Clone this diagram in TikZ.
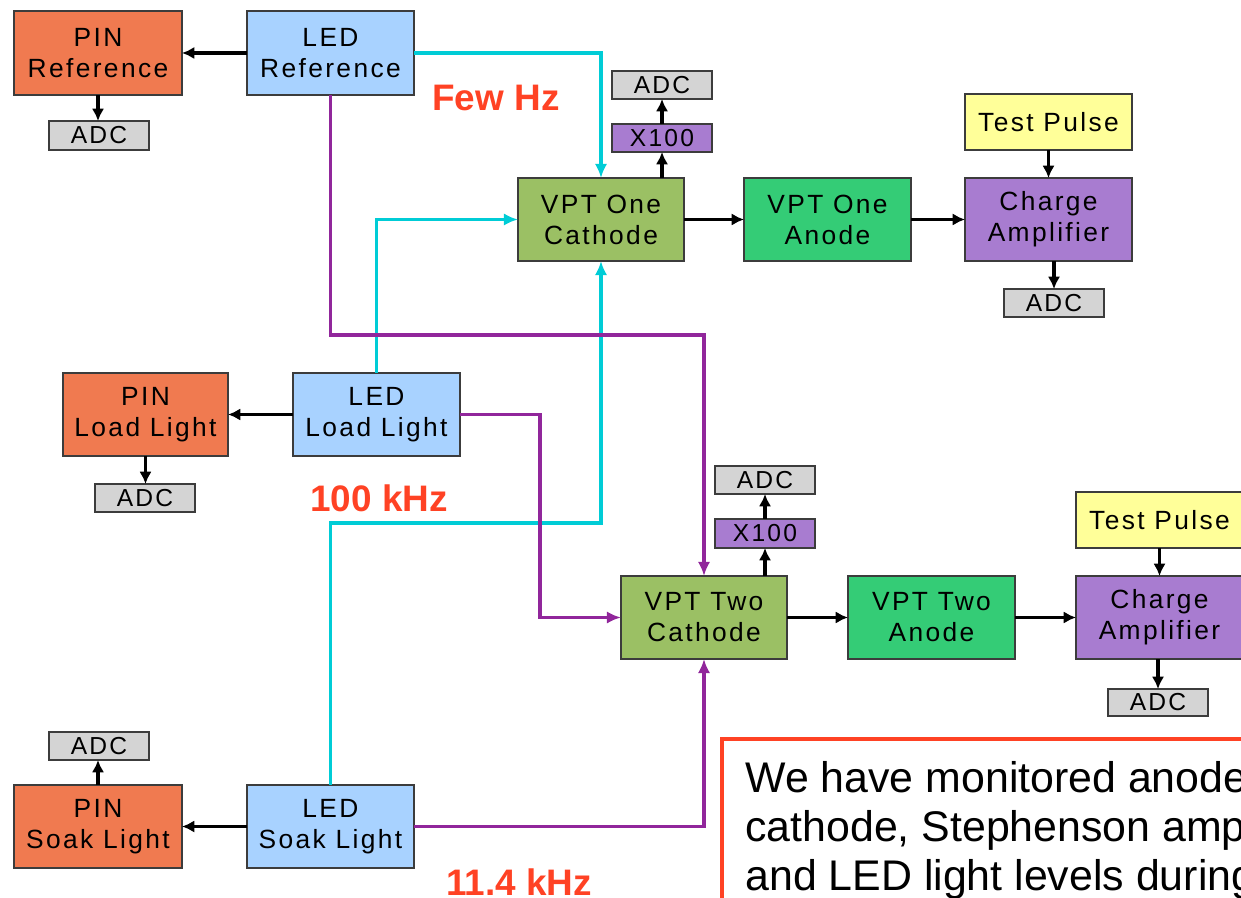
\documentclass[tikz,border=0pt]{standalone}
\usepackage{fontspec}
\setmainfont{Liberation Sans}
\newfontfamily\boxfont[LetterSpace=9]{Liberation Sans}
\usetikzlibrary{arrows.meta}
\definecolor{pinc}{RGB}{240,122,80}
\definecolor{ledc}{RGB}{168,210,255}
\definecolor{cathc}{RGB}{155,192,100}
\definecolor{anoc}{RGB}{52,204,118}
\definecolor{ampc}{RGB}{168,124,208}
\definecolor{tpc}{RGB}{255,255,153}
\definecolor{adcc}{RGB}{212,212,212}
\definecolor{cyanl}{RGB}{0,204,214}
\definecolor{purl}{RGB}{145,38,155}
\definecolor{freqc}{RGB}{255,66,36}
\definecolor{edgec}{RGB}{60,60,60}
\newcommand\bx[7]{\node[#6, minimum width={(#4-#2)*0.02cm}, minimum height={(#5-#3)*0.02cm}] (#1) at ({(#2+#4)/2},{(#3+#5)/2}) {#7};}
\tikzset{
  blk/.style={draw=edgec, line width=0.8pt, inner sep=0pt, outer sep=0pt, align=center,
    font=\boxfont\fontsize{15}{17.6}\selectfont},
  pinbox/.style={blk, fill=pinc},
  ledbox/.style={blk, fill=ledc},
  cathbox/.style={blk, fill=cathc},
  anobox/.style={blk, fill=anoc},
  ampbox/.style={blk, fill=ampc},
  tpbox/.style={blk, fill=tpc},
  adcbox/.style={blk, fill=adcc, font=\boxfont\fontsize{14}{16}\selectfont},
  xbox/.style={blk, fill=ampc, font=\boxfont\fontsize{14}{16}\selectfont},
  blarrow/.style={line width=2.1pt, -{Latex[length=7pt,width=7pt]}},
  cyarrow/.style={cyanl, line width=2.2pt, -{Latex[length=8pt,width=7pt]}},
  puarrow/.style={purl, line width=2.2pt, -{Latex[length=8pt,width=7pt]}},
  freq/.style={text=freqc, font=\bfseries\fontsize{21}{24}\selectfont, inner sep=0pt},
  note/.style={font=\fontsize{24.4}{27}\selectfont, inner sep=0pt, anchor=base west},
}
\begin{document}
\begin{tikzpicture}[x=0.02cm, y=-0.02cm]
\useasboundingbox (0,0) rectangle (1241,898);
\clip (0,0) rectangle (1241,898);
% boxes
\bx{pinref}{14}{11}{182}{95}{pinbox}{PIN\\Reference}
\bx{ledref}{247}{11}{414}{95}{ledbox}{LED\\Reference}
\bx{adc1}{49}{121}{149}{150}{adcbox}{ADC}
\bx{c1}{518}{178}{684}{261}{cathbox}{VPT One\\Cathode}
\bx{x1}{612}{124}{712}{152}{xbox}{X100}
\bx{adc2}{612}{71}{712}{99}{adcbox}{ADC}
\bx{a1}{744}{178}{911}{261}{anobox}{VPT One\\Anode}
\bx{ca1}{965}{178}{1132}{261}{ampbox}{Charge\\Amplifier}
\bx{tp1}{965}{94}{1132}{150}{tpbox}{Test Pulse}
\bx{adc3}{1004}{289}{1104}{317}{adcbox}{ADC}
\bx{pinload}{63}{373}{228}{456}{pinbox}{PIN\\Load Light}
\bx{ledload}{293}{373}{460}{456}{ledbox}{LED\\Load Light}
\bx{adc4}{95}{484}{195}{512}{adcbox}{ADC}
\bx{c2}{621}{576}{787}{659}{cathbox}{VPT Two\\Cathode}
\bx{x2}{715}{519}{815}{548}{xbox}{X100}
\bx{adc5}{715}{466}{815}{494}{adcbox}{ADC}
\bx{a2}{848}{576}{1015}{659}{anobox}{VPT Two\\Anode}
\bx{ca2}{1076}{576}{1243}{659}{ampbox}{Charge\\Amplifier}
\bx{tp2}{1076}{492}{1243}{548}{tpbox}{Test Pulse}
\bx{adc6}{1108}{689}{1208}{716}{adcbox}{ADC}
\bx{pinsoak}{14}{785}{182}{868}{pinbox}{PIN\\Soak Light}
\bx{ledsoak}{247}{785}{414}{868}{ledbox}{LED\\Soak Light}
\bx{adc7}{49}{732}{149}{760}{adcbox}{ADC}
% bend coordinates
\coordinate (pp1) at (500,335);
\coordinate (pl1) at (540,500);
\coordinate (ks) at (450,523);
% colored connectors
\draw[cyarrow] (ledref.east) -| (c1.north);
\draw[cyarrow] (ledload.north) |- (c1.west);
\draw[cyarrow] (ledsoak.north) |- (ks) -| (c1.south);
\draw[puarrow] (ledref.south) |- (pp1) -| (c2.north);
\draw[puarrow] (ledload.east) -| (pl1) |- (c2.west);
\draw[puarrow] (ledsoak.east) -| (c2.south);
% black connectors
\draw[blarrow] (ledref.west) -- (pinref.east);
\draw[blarrow] (pinref.south) -- (pinref.south |- adc1.north);
\draw[blarrow] (x1.south |- c1.north) -- (x1.south);
\draw[blarrow] (x1.north) -- (adc2.south);
\draw[blarrow] (c1.east) -- (a1.west);
\draw[blarrow] (a1.east) -- (ca1.west);
\draw[blarrow] (tp1.south) -- (ca1.north);
\draw[blarrow] (adc3.north |- ca1.south) -- (adc3.north);
\draw[blarrow] (ledload.west) -- (pinload.east);
\draw[blarrow] (pinload.south) -- (pinload.south |- adc4.north);
\draw[blarrow] (x2.south |- c2.north) -- (x2.south);
\draw[blarrow] (x2.north) -- (adc5.south);
\draw[blarrow] (c2.east) -- (a2.west);
\draw[blarrow] (a2.east) -- (ca2.west);
\draw[blarrow] (tp2.south) -- (tp2.south |- ca2.north);
\draw[blarrow] (adc6.north |- ca2.south) -- (adc6.north);
\draw[blarrow] (ledsoak.west) -- (pinsoak.east);
\draw[blarrow] (pinsoak.north) -- (pinsoak.north |- adc7.south);
% frequency labels
\node[freq] (f1) at (496,98) {Few Hz};
\node[freq] (f2) at (379,498) {100 kHz};
\node[freq] (f3) at (519,882) {11.4 kHz};
% note box
\draw[freqc, line width=2.3pt] (722,739) rectangle (1300,940);
\node[note] (n1) at (745,792) {We have monitored anode and};
\node[note] (n2) at (745,841) {cathode, Stephenson amplifier,};
\node[note] (n3) at (745,890) {and LED light levels during};
\end{tikzpicture}
\end{document}
